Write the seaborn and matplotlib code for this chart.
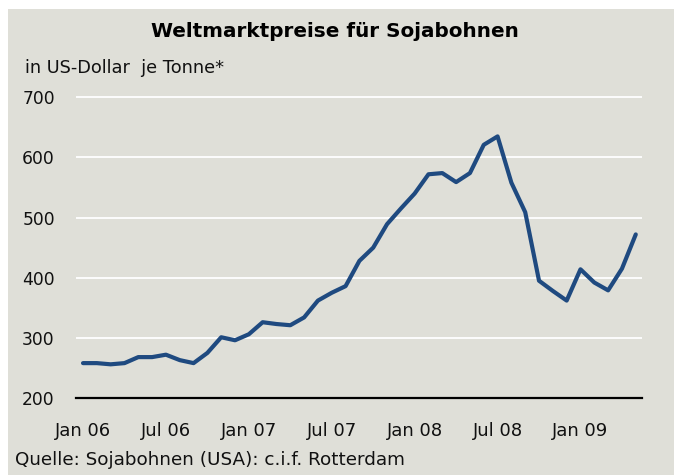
import pandas as pd
import seaborn as sns
import matplotlib.pyplot as plt
from matplotlib.patches import Rectangle

# monthly prices, Jan 06 .. May 09 (US-Dollar per tonne)
prices = [258, 258, 256, 258, 268, 268, 272, 263, 258, 275,
          301, 296, 306, 326, 323, 321, 334, 362, 375, 386,
          428, 450, 489, 515, 540, 572, 574, 559, 574, 621,
          635, 558, 509, 395, 378, 362, 414, 392, 379, 415,
          472]
tick_pos = [0, 6, 12, 18, 24, 30, 36]
tick_labels = ["Jan 06", "Jul 06", "Jan 07", "Jul 07", "Jan 08", "Jul 08", "Jan 09"]
y_ticks = [200, 300, 400, 500, 600, 700]

bg = "#dfdfd8"
line_color = "#1f4a80"

sns.set_style("white")
plt.rcParams['font.family'] = ['DejaVu Sans']

df = pd.DataFrame({"month": range(len(prices)), "price": prices})

fig = plt.figure(figsize=(6.74, 4.75), dpi=100, facecolor="white")
fig.patches.append(Rectangle((8 / 674, 0), 1, 1 - 9 / 475, transform=fig.transFigure,
                             facecolor=bg, edgecolor="none", zorder=-1))
ax = fig.add_axes([75.7 / 674, 1 - 398 / 475, (641.7 - 75.7) / 674, (398 - 95.5) / 475])
ax.set_facecolor(bg)

sns.lineplot(data=df, x="month", y="price", ax=ax, color=line_color, linewidth=3)

ax.set_xlim(-0.53, 40.43)
ax.set_ylim(200, 703)
ax.set_yticks(y_ticks)
ax.set_xticks(tick_pos)
ax.set_xticklabels(tick_labels)
ax.yaxis.grid(True, color="white", linewidth=1.3)
ax.set_axisbelow(True)
ax.tick_params(axis="both", length=0, colors="#111111")
ax.tick_params(axis="y", pad=15, labelsize=12.3)
ax.tick_params(axis="x", pad=17, labelsize=13)
ax.set_xlabel("")
ax.set_ylabel("")
for side in ["top", "right", "left"]:
    ax.spines[side].set_visible(False)
ax.spines["bottom"].set_color("black")
ax.spines["bottom"].set_linewidth(1.6)

fig.text(335 / 674, 1 - 36.7 / 475, "Weltmarktpreise für Sojabohnen", ha="center", va="baseline",
         fontsize=14.4, fontweight="bold", color="black")
fig.text(25 / 674, 1 - 72.7 / 475, "in US-Dollar  je Tonne*", ha="left", va="baseline",
         fontsize=12.8, color="#111111")
fig.text(15 / 674, 1 - 465 / 475, "Quelle: Sojabohnen (USA): c.i.f. Rotterdam", ha="left",
         va="baseline", fontsize=13.2, color="#111111")

fig.savefig("out.png", dpi=100, facecolor=fig.get_facecolor())
